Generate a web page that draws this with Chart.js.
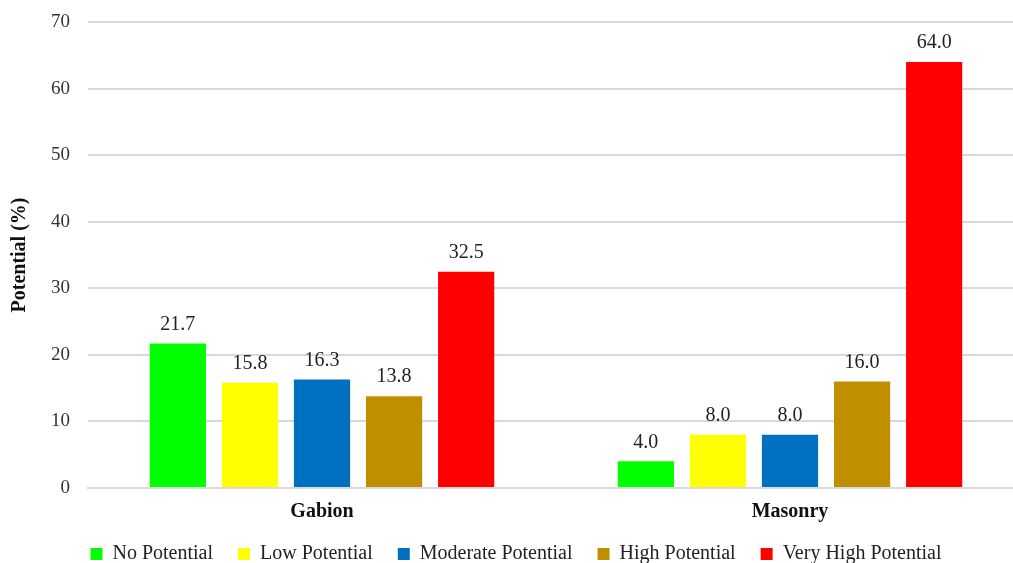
<!DOCTYPE html>
<html>
<head>
<meta charset="utf-8">
<script src="https://cdn.jsdelivr.net/npm/chart.js@4"></script>
<style>
  html, body { margin: 0; padding: 0; background: #fff; overflow: hidden; }
  #wrap { width: 1024px; height: 563px; }
</style>
</head>
<body>
<div id="wrap"><canvas id="chart"></canvas></div>
<script>
const categories = ["Gabion", "Masonry"];
const seriesNames = ["No Potential", "Low Potential", "Moderate Potential", "High Potential", "Very High Potential"];
const noPotential = [21.7, 4.0];
const lowPotential = [15.8, 8.0];
const moderatePotential = [16.3, 8.0];
const highPotential = [13.8, 16.0];
const veryHighPotential = [32.5, 64.0];
const yTicks = [0, 10, 20, 30, 40, 50, 60, 70];

const colors = ["#00ff00", "#ffff00", "#0070c0", "#bf8f00", "#ff0000"];
const FONT = "'Liberation Serif', 'Times New Roman', serif";
const LEGEND_LIFT = 9;

/**
 * Draws the value above every bar, one decimal like the source.
 */
const valueLabels = {
  id: "valueLabels",
  afterDatasetsDraw(chart) {
    const ctx = chart.ctx;
    ctx.save();
    ctx.font = "20px " + FONT;
    ctx.fillStyle = "#222";
    ctx.textAlign = "center";
    ctx.textBaseline = "bottom";
    chart.data.datasets.forEach((ds, i) => {
      chart.getDatasetMeta(i).data.forEach((bar, j) => {
        ctx.fillText(ds.data[j].toFixed(1), bar.x, bar.y - 9);
      });
    });
    ctx.restore();
  },
};

/**
 * The legend padding is used both between items and above them.
 * Keep the wide horizontal spacing but trim the space above the row.
 */
const tightLegend = {
  id: "tightLegend",
  afterInit(chart) {
    const legend = chart.legend;
    const fit = legend.fit.bind(legend);
    const draw = legend.draw.bind(legend);
    legend.fit = function () {
      fit();
      this.height -= LEGEND_LIFT;
    };
    legend.draw = function () {
      this.top -= LEGEND_LIFT;
      draw();
      this.top += LEGEND_LIFT;
    };
  },
};

const allSeries = [noPotential, lowPotential, moderatePotential, highPotential, veryHighPotential];

new Chart(document.getElementById("chart"), {
  type: "bar",
  data: {
    labels: categories,
    datasets: allSeries.map((values, i) => ({
      label: seriesNames[i],
      data: values,
      backgroundColor: colors[i],
      borderWidth: 0,
      categoryPercentage: 0.77,
      barPercentage: 0.78,
    })),
  },
  plugins: [valueLabels, tightLegend],
  options: {
    responsive: true,
    maintainAspectRatio: false,
    animation: false,
    layout: { padding: { top: 0, left: 8, right: 0, bottom: -11 } },
    plugins: {
      tooltip: { enabled: false },
      legend: {
        position: "bottom",
        labels: {
          boxWidth: 12,
          boxHeight: 12,
          padding: 25,
          color: "#222",
          font: { family: FONT, size: 20 },
        },
      },
    },
    scales: {
      x: {
        grid: { display: false },
        border: { color: "#d9d9d9", width: 2 },
        ticks: {
          color: "#111",
          padding: 4,
          font: { family: FONT, size: 20, weight: "bold" },
        },
      },
      y: {
        min: 0,
        max: 70,
        afterBuildTicks: (axis) => { axis.ticks = yTicks.map((v) => ({ value: v })); },
        afterFit: (axis) => { axis.paddingTop = 22; },
        border: { display: false },
        grid: { color: "#d9d9d9", lineWidth: 2, drawTicks: false },
        ticks: {
          color: "#333",
          padding: 18,
          font: { family: FONT, size: 19 },
        },
        title: {
          display: true,
          text: "Potential (%)",
          color: "#111",
          padding: { top: 0, bottom: 1 },
          font: { family: FONT, size: 20, weight: "bold" },
        },
      },
    },
  },
});
</script>
</body>
</html>
